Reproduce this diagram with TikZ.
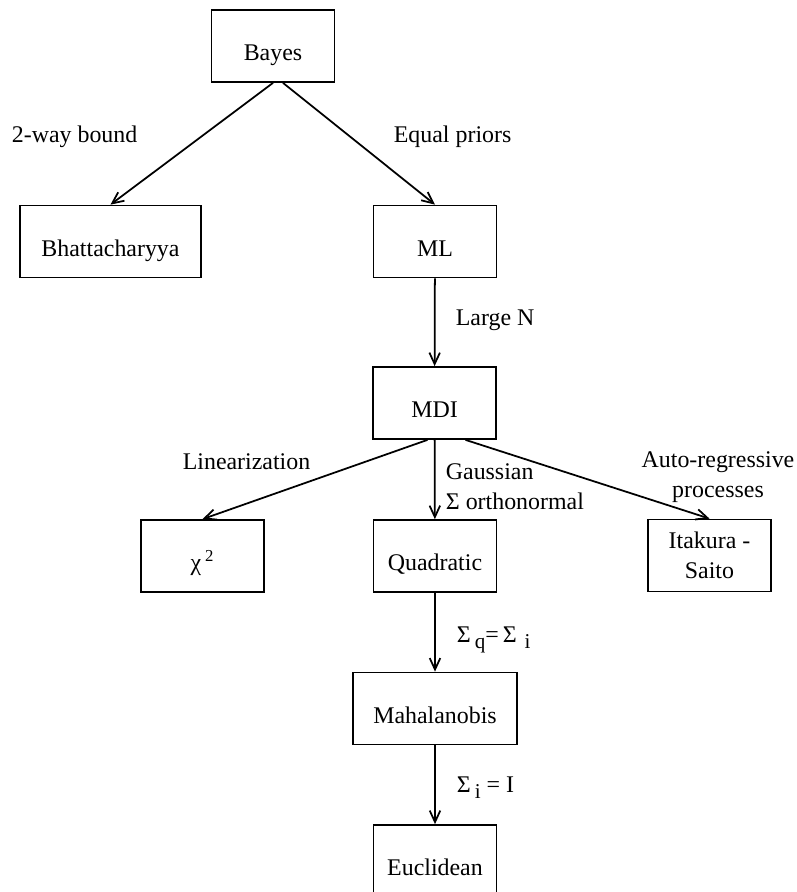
\documentclass[tikz,border=0pt]{standalone}
\usepackage{fontspec}
\setmainfont{Liberation Serif}
\usepackage{tikz}
\usetikzlibrary{arrows.meta}
\newcommand{\lowsub}[1]{\raisebox{-0.55ex}{\fontsize{12}{12}\selectfont #1}}

\begin{document}
\begin{tikzpicture}[->,line width=1pt,>={Straight Barb[length=6.5pt,width=6pt]},font=\fontsize{13.6}{17}\selectfont]
    \tikzstyle{box}=[draw=black, rectangle, minimum width=2.46cm, minimum height=1.44cm, inner sep=0pt, text height=17pt, text depth=0pt]
    \tikzstyle{twoline}=[draw=black, rectangle, minimum width=2.46cm, minimum height=1.44cm, inner sep=0pt, align=center]
    \tikzstyle{lbl}=[inner sep=0pt, text=black]
    \useasboundingbox (0,0) rectangle (15.92,-17.84);

    \node[box] (bayes) at (5.46,-0.92)   {Bayes};
    \node[box, minimum width=3.62cm] (bhat) at (2.21,-4.83) {Bhattacharyya};
    \node[box] (ml)    at (8.70,-4.83)   {ML};
    \node[box] (mdi)   at (8.69,-8.06)   {MDI};
    \node[box] (chi)   at (4.05,-11.12)  {χ\,\textsuperscript{2}};
    \node[box] (quad)  at (8.70,-11.12)  {Quadratic};
    \node[twoline] (itak) at (14.19,-11.11) {Itakura -\\Saito};
    \node[box, minimum width=3.28cm] (mahal) at (8.70,-14.17) {Mahalanobis};
    \node[box] (eucl)  at (8.70,-17.22)  {Euclidean};

    % edge labels
    \node[lbl, anchor=west] (l1) at (0.22,-2.74)  {2-way bound};
    \node[lbl, anchor=west] (l2) at (7.86,-2.74)  {Equal priors};
    \node[lbl, anchor=west] (l3) at (9.10,-6.40)  {Large N};
    \node[lbl]              (l4) at (4.93,-9.24)  {Linearization};
    \node[lbl, anchor=west, align=left] (l5) at (8.90,-9.74) {Gaussian\\Σ orthonormal};
    \node[lbl, align=center] (l6) at (14.36,-9.55) {Auto-regressive\\processes};
    \node[lbl, anchor=west] (l7) at (9.12,-12.80) {Σ\,\lowsub{q}=\,Σ\,\,\lowsub{i}};
    \node[lbl, anchor=west] (l8) at (9.12,-15.76) {Σ\,\lowsub{i} = I};

    \path
     (bayes.south) edge[] (bhat.north)
     ([xshift=0.2cm]bayes.south) edge[] (ml.north)
     (ml)   edge[] (mdi)
     ([xshift=-0.14cm]mdi.south) edge[] (chi.north)
     (mdi)  edge[] (quad)
     ([xshift=0.62cm]mdi.south) edge[] (itak.north)
     (quad) edge[] (mahal)
     (mahal) edge[] (eucl)
     ;
\end{tikzpicture}
\end{document}
